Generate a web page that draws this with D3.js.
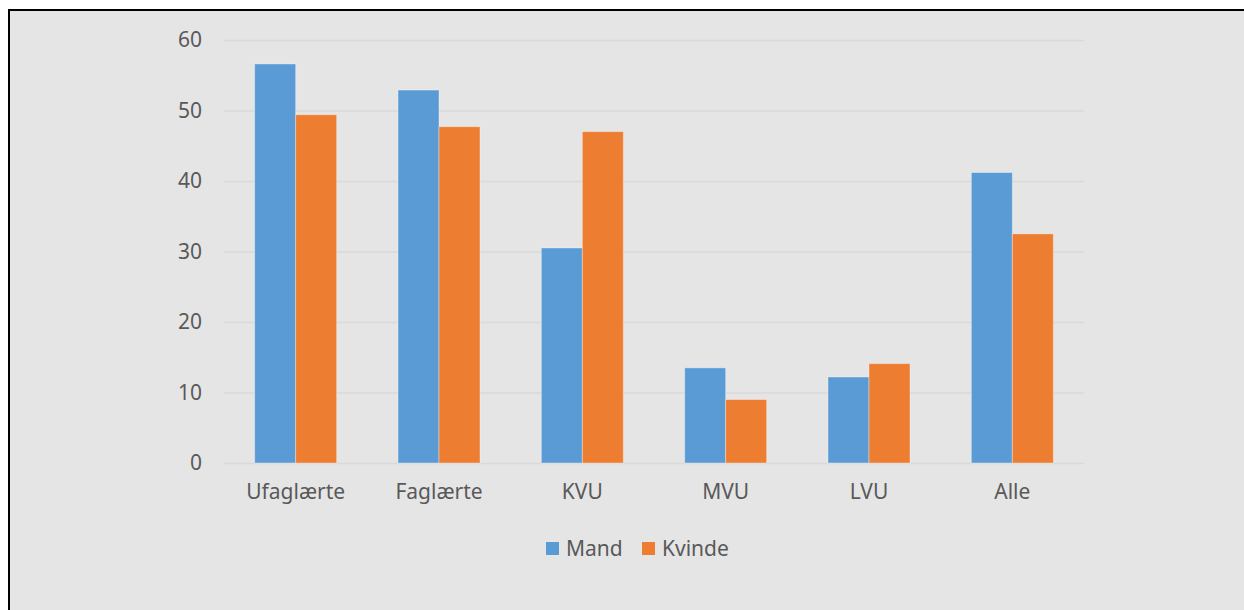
<!DOCTYPE html>
<html>
<head>
<meta charset="utf-8">
<script src="https://cdn.jsdelivr.net/npm/d3@7"></script>
<style>
  body { margin: 0; background: #fff; }
  svg { display: block; font-family: "Noto Sans", "Open Sans", sans-serif; }
</style>
</head>
<body>
<svg id="chart" width="1244" height="610"></svg>
<script>
var categories = ['Ufaglærte', 'Faglærte', 'KVU', 'MVU', 'LVU', 'Alle'];
var seriesNames = ['Mand', 'Kvinde'];
var mand = [56.6, 52.9, 30.5, 13.5, 12.2, 41.2];
var kvinde = [49.4, 47.7, 47.0, 9.0, 14.1, 32.5];
var yTicks = [0, 10, 20, 30, 40, 50, 60];
var colors = ['#5b9bd5', '#ed7d31'];

var svg = d3.select('#chart');

// chart frame (only top and left edges show in the picture)
svg.append('rect')
  .attr('x', 9).attr('y', 10)
  .attr('width', 1250).attr('height', 620)
  .attr('fill', '#e5e5e5')
  .attr('stroke', '#000')
  .attr('stroke-width', 2);

var plot = { left: 224, right: 1084, top: 40, bottom: 463 };

var x = d3.scaleBand()
  .domain(categories)
  .range([plot.left, plot.right])
  .paddingInner(0.428)
  .paddingOuter(0.214);

var x1 = d3.scaleBand()
  .domain(seriesNames)
  .range([0, x.bandwidth()]);

var y = d3.scaleLinear()
  .domain([0, 60])
  .range([plot.bottom, plot.top]);

var color = d3.scaleOrdinal().domain(seriesNames).range(colors);

// gridlines
svg.append('g')
  .attr('transform', 'translate(' + plot.left + ',0)')
  .call(d3.axisLeft(y).tickValues(yTicks).tickSize(-(plot.right - plot.left)).tickFormat(''))
  .call(function(g) {
    g.select('.domain').remove();
    g.selectAll('line').attr('stroke', '#d9d9d9').attr('stroke-width', 1.5);
  });

// y labels
svg.append('g')
  .attr('transform', 'translate(' + (plot.left - 22) + ',0)')
  .call(d3.axisLeft(y).tickValues(yTicks).tickSize(0).tickPadding(0))
  .call(function(g) {
    g.select('.domain').remove();
    g.selectAll('text')
      .attr('fill', '#595959')
      .style('font-size', '21px')
      .style('font-family', '"Noto Sans", sans-serif');
  });

var rows = categories.map(function(c, i) {
  return { cat: c, values: [
    { name: 'Mand', v: mand[i] },
    { name: 'Kvinde', v: kvinde[i] }
  ] };
});

var groups = svg.append('g').selectAll('g')
  .data(rows)
  .enter().append('g')
  .attr('transform', function(d) { return 'translate(' + x(d.cat) + ',0)'; });

groups.selectAll('rect')
  .data(function(d) { return d.values; })
  .enter().append('rect')
  .attr('x', function(d) { return x1(d.name); })
  .attr('y', function(d) { return y(d.v); })
  .attr('width', x1.bandwidth())
  .attr('height', function(d) { return y(0) - y(d.v); })
  .attr('fill', function(d) { return color(d.name); })
  .attr('stroke', 'rgba(255,255,255,0.35)')
  .attr('stroke-width', 1);

// x labels
svg.append('g')
  .attr('transform', 'translate(0,' + plot.bottom + ')')
  .call(d3.axisBottom(x).tickSize(0).tickPadding(21))
  .call(function(g) {
    g.select('.domain').remove();
    g.selectAll('text')
      .attr('fill', '#595959')
      .style('font-size', '21px')
      .style('font-family', '"Noto Sans", sans-serif');
  });

// legend
var legendX = [546, 642];
var legend = svg.append('g').selectAll('g')
  .data(seriesNames)
  .enter().append('g')
  .attr('transform', function(d, i) { return 'translate(' + legendX[i] + ',542)'; });

legend.append('rect')
  .attr('width', 13).attr('height', 13)
  .attr('fill', function(d) { return color(d); });

legend.append('text')
  .attr('x', 20).attr('y', 6.5)
  .attr('dy', '0.35em')
  .attr('fill', '#595959')
  .style('font-size', '21px')
  .text(function(d) { return d; });
</script>
</body>
</html>
